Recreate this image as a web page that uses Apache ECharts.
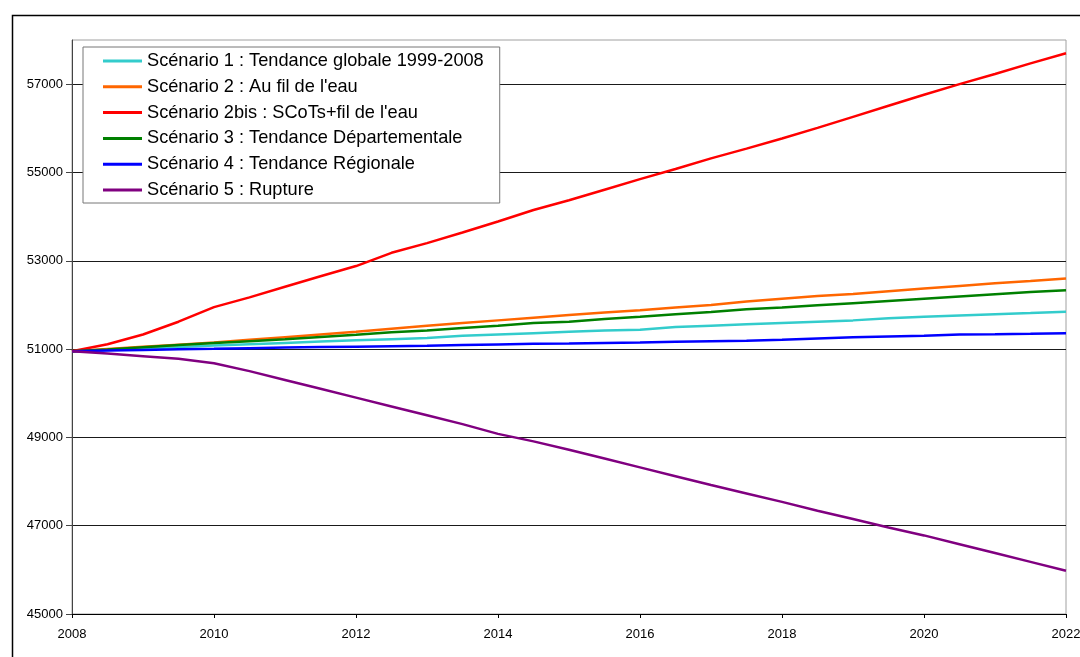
<!DOCTYPE html>
<html>
<head>
<meta charset="utf-8">
<title>Scénarios de population 2008-2022</title>
<script src="https://cdn.jsdelivr.net/npm/echarts@6/dist/echarts.min.js"></script>
<style>
  html, body { margin: 0; padding: 0; background: #fff; }
  #chart { width: 1080px; height: 657px; }
</style>
</head>
<body>
<div id="chart"></div>
<script>
// Half-yearly projection steps
const years = [
  2008, 2008.5, 2009, 2009.5, 2010, 2010.5, 2011, 2011.5, 2012, 2012.5,
  2013, 2013.5, 2014, 2014.5, 2015, 2015.5, 2016, 2016.5, 2017, 2017.5,
  2018, 2018.5, 2019, 2019.5, 2020, 2020.5, 2021, 2021.5, 2022
];

// Population per scenario
const scenario1 = [
  50950, 50980, 51010, 51045, 51080, 51110, 51140, 51170, 51200, 51225,
  51250, 51300, 51330, 51360, 51390, 51420, 51440, 51500, 51530, 51560,
  51590, 51620, 51650, 51700, 51730, 51760, 51790, 51815, 51845
];
const scenario2 = [
  50950, 51000, 51050, 51100, 51150, 51210, 51270, 51330, 51390, 51460,
  51530, 51590, 51650, 51710, 51770, 51830, 51880, 51940, 52000, 52080,
  52140, 52200, 52250, 52310, 52370, 52430, 52490, 52540, 52600
];
const scenario2bis = [
  50950, 51110, 51330, 51620, 51950, 52170, 52410, 52650, 52880, 53180,
  53400, 53640, 53890, 54150, 54370, 54610, 54850, 55080, 55320, 55540,
  55770, 56010, 56260, 56510, 56760, 57000, 57230, 57470, 57700
];
const scenario3 = [
  50950, 50990, 51040, 51090, 51135, 51180, 51225, 51275, 51325, 51380,
  51420, 51480, 51530, 51590, 51620, 51680, 51730, 51790, 51840, 51900,
  51940, 51990, 52040, 52090, 52140, 52190, 52240, 52290, 52335
];
const scenario4 = [
  50950, 50965, 50980, 50995, 51005, 51020, 51035, 51045, 51055, 51065,
  51075, 51090, 51105, 51120, 51125, 51140, 51150, 51165, 51180, 51190,
  51210, 51240, 51270, 51285, 51300, 51330, 51335, 51345, 51360
];
const scenario5 = [
  50950, 50900, 50840, 50780, 50680, 50500, 50300, 50100, 49900, 49700,
  49500, 49300, 49080, 48910, 48720, 48520, 48320, 48120, 47920, 47730,
  47540, 47340, 47150, 46960, 46780, 46580, 46380, 46180, 45980
];

const seriesNames = [
  "Scénario 1 : Tendance globale 1999-2008",
  "Scénario 2 : Au fil de l'eau",
  "Scénario 2bis : SCoTs+fil de l'eau",
  "Scénario 3 : Tendance Départementale",
  "Scénario 4 : Tendance Régionale",
  "Scénario 5 : Rupture"
];
const seriesValues = [scenario1, scenario2, scenario2bis, scenario3, scenario4, scenario5];

// Y tick labels
const yTickValues = [45000, 47000, 49000, 51000, 53000, 55000, 57000];

const lineColors = ['#33CCCC', '#FF6600', '#FF0000', '#008000', '#0000FF', '#800080'];
const font = "'Liberation Sans', Arial, sans-serif";

const chart = echarts.init(document.getElementById('chart'), null, { renderer: 'canvas' });

chart.setOption({
  animation: false,
  backgroundColor: '#ffffff',
  color: lineColors,
  textStyle: { fontFamily: font },
  graphic: [{
    type: 'rect',
    left: 10, top: 13,
    shape: { x: 0, y: 0, width: 1200, height: 800 },
    style: { fill: 'none', stroke: '#000', lineWidth: 1.5 },
    silent: true,
    z: -10
  }],
  grid: {
    left: 72, right: 14, top: 40, bottom: 43,
    outerBoundsMode: 'none',
    containLabel: false,
    show: true,
    borderColor: '#a0a0a0',
    borderWidth: 1,
    backgroundColor: 'transparent'
  },
  legend: {
    orient: 'vertical',
    left: 83, top: 47,
    padding: [3, 16, 2, 20],
    itemGap: 3.8,
    itemWidth: 39,
    itemHeight: 3,
    icon: 'rect',
    backgroundColor: '#fff',
    borderColor: '#777',
    borderWidth: 1,
    borderRadius: 0,
    textStyle: { fontFamily: font, fontSize: 18.2, color: '#000', lineHeight: 22 },
    data: seriesNames
  },
  xAxis: {
    type: 'value',
    min: 2008, max: 2022, interval: 2,
    axisLine: { show: true, onZero: false, lineStyle: { color: '#000', width: 1 } },
    axisTick: { show: true, length: 4, lineStyle: { color: '#000' } },
    axisLabel: { color: '#000', fontSize: 13, fontFamily: font, margin: 14, formatter: v => String(v) },
    splitLine: { show: false }
  },
  yAxis: {
    type: 'value',
    min: 45000, max: 58000,
    axisLine: { show: true, onZero: false, lineStyle: { color: '#444', width: 1 } },
    axisTick: { show: true, length: 6, customValues: yTickValues, lineStyle: { color: '#444' } },
    axisLabel: { color: '#000', fontSize: 13, fontFamily: font, margin: 9, customValues: yTickValues, formatter: v => String(v) },
    splitLine: { show: true, lineStyle: { color: '#1a1a1a', width: 1 } }
  },
  series: seriesValues.map((vals, i) => ({
    name: seriesNames[i],
    type: 'line',
    symbol: 'none',
    lineStyle: { width: 2.5 },
    data: years.map((y, j) => [y, vals[j]]),
    z: 2 + i
  }))
});
</script>
</body>
</html>
